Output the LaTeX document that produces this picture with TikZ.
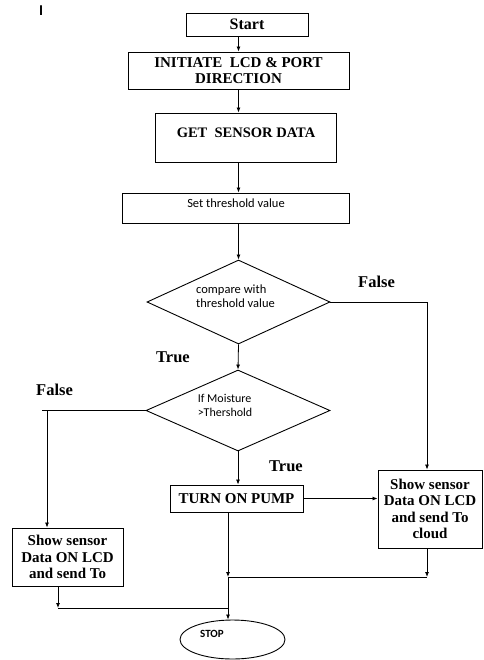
\documentclass[tikz,border=0pt]{standalone}
\usepackage{fontspec}
\setmainfont{Liberation Serif}
\newfontfamily\calib{Carlito}
\usetikzlibrary{shapes.geometric,arrows.meta}
\begin{document}
\begin{tikzpicture}[x=1pt,y=-1pt,
  box/.style={draw, line width=0.9pt, inner sep=0pt, align=center, font=\bfseries\fontsize{15}{16.5}\selectfont},
  small/.style={inner sep=0pt, align=left, font=\calib\fontsize{12.5}{14}\selectfont},
  lab/.style={inner sep=0pt, font=\bfseries\fontsize{16.5}{18}\selectfont},
  arr/.style={-{Latex[length=5pt,width=4pt]}, line width=0.8pt},
  ln/.style={line width=0.8pt},
  dia/.style={draw, diamond, line width=0.9pt, inner sep=0pt}]
\useasboundingbox (0,0) rectangle (483,660);
\node[inner sep=0pt, font=\calib\bfseries\fontsize{15}{15}\selectfont] (mark) at (41,11) {I};
\node[box, minimum width=122, minimum height=23, font=\bfseries\fontsize{16}{18}\selectfont] (start) at (247,24.5) {Start};
\node[box, minimum width=221, minimum height=37] (init) at (238.5,70.5) {INITIATE\ \ LCD \& PORT\\DIRECTION};
\node[box, minimum width=181, minimum height=49] (get) at (245.5,137.5) {};
\node[inner sep=0pt, font=\bfseries\fontsize{14.5}{16}\selectfont] (gett) at (246,133) {GET\ \ SENSOR DATA};
\node[box, minimum width=227, minimum height=30] (set) at (235.5,208) {};
\node[small] (sett) at (236,203) {Set threshold value};
\node[dia, minimum width=183, minimum height=84] (d1) at (238.5,302) {};
\node[small] (d1t) at (235.5,296) {compare with\\threshold value};
\node[dia, minimum width=184, minimum height=81] (d2) at (238,410.5) {};
\node[small, font=\calib\fontsize{12}{14}\selectfont] (d2t) at (225,405.5) {If Moisture\\>Thershold};
\node[box, minimum width=133, minimum height=27] (pump) at (236.5,498.5) {TURN ON PUMP};
\node[box, minimum width=104, minimum height=78] (rbox) at (430,509) {Show sensor\\Data ON LCD\\and send To\\cloud};
\node[box, minimum width=111, minimum height=58] (lbox) at (67.5,557) {Show sensor\\Data ON LCD\\and send To};
\node[draw, ellipse, line width=0.9pt, minimum width=105, minimum height=39, inner sep=0pt] (stop) at (232.5,639.5) {};
\node[inner sep=0pt, font=\calib\bfseries\fontsize{11}{12}\selectfont] (stopt) at (212,634) {STOP};
\node[lab] (f1) at (376.5,282) {False};
\node[lab] (t1) at (173,357) {True};
\node[lab] (f2) at (54.5,390) {False};
\node[lab] (t2) at (286,466) {True};
\coordinate (j1) at (228,577);
\coordinate (j2) at (228,608);
\coordinate (lf) at (47,410.5);
\coordinate (lstub) at (42,410.5);
\draw[arr] (init.north |- start.south) -- (init.north);
\draw[arr] (init.south) -- (init.south |- get.north);
\draw[arr] (init.south |- get.south) -- (init.south |- set.north);
\draw[arr] (d1.north |- set.south) -- (d1.north);
\draw[arr] (d1.south) -- (d2.north);
\draw[arr] (d1.east) -| ([xshift=-3]rbox.north);
\draw[ln] (d2.west) -- (lstub);
\draw[arr] (lf) -- (lf |- lbox.north);
\draw[arr] (d2.south) -- (d2.south |- pump.north);
\draw[arr] (pump.east) -- (rbox.west |- pump.east);
\draw[arr] (pump.south -| j1) -- (j1);
\draw[arr] (j1) -- (j1 |- stop.north);
\draw[arr] ([xshift=-3]rbox.south) -- ([xshift=-3]rbox.south |- j1);
\draw[ln] (j1) -- ([xshift=-3]rbox.south |- j1);
\draw[arr] ([xshift=-9.5]lbox.south) -- ([xshift=-9.5]lbox.south |- j2);
\draw[ln] ([xshift=-9.5]lbox.south |- j2) -- (j2);
\end{tikzpicture}
\end{document}
